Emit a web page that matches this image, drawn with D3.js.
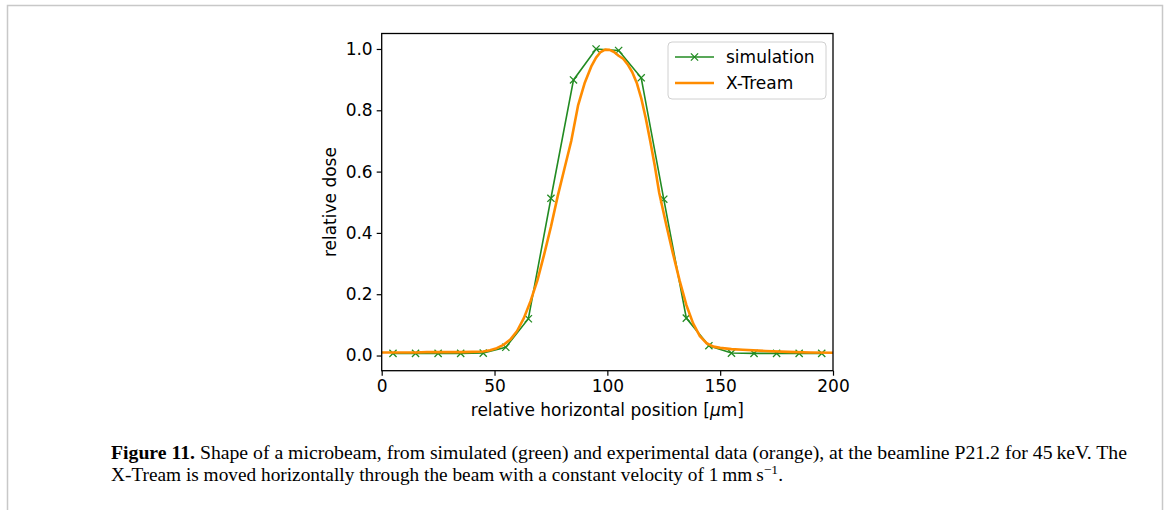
<!DOCTYPE html>
<html>
<head>
<meta charset="utf-8">
<script src="https://cdn.jsdelivr.net/npm/d3@7"></script>
<style>
  body { margin: 0; background: #fff; }
  svg { display: block; }
</style>
</head>
<body>
<div id="chart"></div>
<script>
// simulation: x in µm, relative dose
const simX = [5, 15, 25, 35, 45, 55, 65, 75, 85, 95, 105, 115, 125, 135, 145, 155, 165, 175, 185, 195];
const simY = [0.007, 0.007, 0.007, 0.007, 0.008, 0.027, 0.12, 0.513, 0.899, 1.0, 0.995, 0.906, 0.51, 0.122, 0.032, 0.008, 0.007, 0.007, 0.007, 0.007];

// X-Tream measurement
const xtX = [0, 5, 10, 15, 20, 25, 30, 35, 40, 45, 48, 51, 54, 57, 60, 63, 66, 69, 72, 75, 78, 81, 84, 87, 90, 93, 95, 97, 99, 101, 103, 105, 107, 109, 111, 113, 115, 117, 119, 121, 123, 126, 129, 132, 135, 138, 141, 144, 147, 150, 155, 160, 170, 180, 190, 200];
const xtY = [0.010, 0.010, 0.010, 0.010, 0.011, 0.011, 0.011, 0.011, 0.012, 0.013, 0.017, 0.024, 0.035, 0.052, 0.080, 0.122, 0.178, 0.245, 0.33, 0.42, 0.52, 0.61, 0.70, 0.815, 0.89, 0.945, 0.972, 0.99, 0.998, 0.997, 0.99, 0.978, 0.968, 0.95, 0.925, 0.89, 0.84, 0.775, 0.70, 0.62, 0.53, 0.43, 0.335, 0.245, 0.165, 0.105, 0.063, 0.040, 0.029, 0.025, 0.021, 0.019, 0.015, 0.012, 0.010, 0.009];

const xTicks = [0, 50, 100, 150, 200];
const yTicks = [0.0, 0.2, 0.4, 0.6, 0.8, 1.0];
const seriesNames = ["simulation", "X-Tream"];

const W = 1167, H = 510;
const margin = { top: 33.5, left: 381.7 },
  width = 451.3,
  height = 337.2;

const green = "#228b22", orange = "#ff8c00";
const fs = 17;

const root = d3.select("#chart").append("svg").attr("width", W).attr("height", H);

// page frame (open at the bottom)
root.append("path")
  .attr("d", "M7.5,510 V5.5 H1162.5 V510")
  .attr("fill", "none").attr("stroke", "#c8c8c8").attr("stroke-width", 1.5);

const svg = root.append("g").attr("transform", "translate(" + margin.left + "," + margin.top + ")");

const x = d3.scaleLinear().domain([0, 200]).range([0, width]);
const y = d3.scaleLinear().domain([-0.0495, 1.0505]).range([height, 0]);

const tickFont = "DejaVu Sans, sans-serif";

const xAxis = svg.append("g")
  .attr("transform", "translate(0," + height + ")")
  .call(d3.axisBottom(x).tickValues(xTicks).tickSize(5).tickPadding(4).tickFormat(d3.format("d")));
const yAxis = svg.append("g")
  .call(d3.axisLeft(y).tickValues(yTicks).tickSize(5).tickPadding(4).tickFormat(d3.format(".1f")));
[xAxis, yAxis].forEach((a) => {
  a.select(".domain").remove();
  a.selectAll("line").attr("stroke", "#000").attr("stroke-width", 1.2);
  a.selectAll("text").attr("font-family", tickFont).attr("font-size", fs).attr("fill", "#000");
});
xAxis.selectAll("text").attr("dy", "0.75em");

// series
const simData = simX.map((v, i) => [v, simY[i]]);
const xtData = xtX.map((v, i) => [v, xtY[i]]);
const line = d3.line().x((d) => x(d[0])).y((d) => y(d[1]));

svg.append("path").datum(simData)
  .attr("d", line).attr("fill", "none").attr("stroke", green).attr("stroke-width", 1.6);

const cross = (g, s) => {
  g.append("path")
    .attr("d", `M${-s},${-s}L${s},${s}M${-s},${s}L${s},${-s}`)
    .attr("stroke", green).attr("stroke-width", 1.3).attr("fill", "none");
};
svg.append("g").selectAll("g").data(simData).enter().append("g")
  .attr("transform", (d) => "translate(" + x(d[0]) + "," + y(d[1]) + ")")
  .each(function () { cross(d3.select(this), 3.6); });

svg.append("path").datum(xtData)
  .attr("d", line).attr("fill", "none").attr("stroke", orange)
  .attr("stroke-width", 2.6).attr("stroke-linejoin", "round");

// frame
svg.append("rect").attr("width", width).attr("height", height)
  .attr("fill", "none").attr("stroke", "#000").attr("stroke-width", 1.3);

// axis labels
const xl = svg.append("text")
  .attr("x", width / 2).attr("y", height + 45)
  .attr("text-anchor", "middle").attr("font-family", tickFont).attr("font-size", fs);
xl.append("tspan").text("relative horizontal position [");
xl.append("tspan").attr("font-style", "italic").text("\u03bc");
xl.append("tspan").text("m]");
svg.append("text")
  .attr("transform", "translate(" + (-46) + "," + (height / 2) + ") rotate(-90)")
  .attr("text-anchor", "middle").attr("font-family", tickFont).attr("font-size", fs)
  .text("relative dose");

// legend
const lg = root.append("g").attr("transform", "translate(668,42)");
lg.append("rect").attr("width", 158).attr("height", 57).attr("rx", 4)
  .attr("fill", "#fff").attr("fill-opacity", 0.8).attr("stroke", "#d0d0d0").attr("stroke-width", 1);
seriesNames.forEach((name, i) => {
  const cy = 15 + i * 26;
  lg.append("line").attr("x1", 7).attr("x2", 46).attr("y1", cy).attr("y2", cy)
    .attr("stroke", i === 0 ? green : orange).attr("stroke-width", i === 0 ? 1.6 : 2.6);
  if (i === 0) {
    const m = lg.append("g").attr("transform", "translate(26.5," + cy + ")");
    cross(m, 3.6);
  }
  lg.append("text").attr("x", 58).attr("y", cy + 6)
    .attr("font-family", tickFont).attr("font-size", fs).text(name);
});

// caption
const capFont = "Liberation Serif, serif";
const c1 = root.append("text").attr("x", 111).attr("y", 459)
  .attr("font-family", capFont).attr("font-size", 18.5)
  .attr("textLength", 1016).attr("lengthAdjust", "spacingAndGlyphs");
c1.append("tspan").attr("font-weight", "bold").text("Figure 11.");
c1.append("tspan").text(" Shape of a microbeam, from simulated (green) and experimental data (orange), at the beamline P21.2 for 45\u2009keV. The");

const c2 = root.append("text").attr("x", 111).attr("y", 481)
  .attr("font-family", capFont).attr("font-size", 18.5)
  .attr("textLength", 672).attr("lengthAdjust", "spacingAndGlyphs");
c2.append("tspan").text("X-Tream is moved horizontally through the beam with a constant velocity of 1\u2009mm\u2009s");
c2.append("tspan").attr("font-size", 13).attr("dy", -7).text("\u22121");
c2.append("tspan").attr("dy", 7).text(".");
</script>
</body>
</html>
